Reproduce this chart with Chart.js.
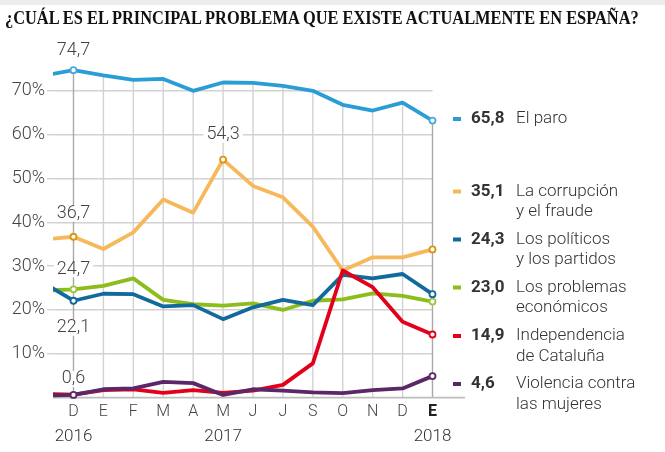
<!DOCTYPE html>
<html>
<head>
<meta charset="utf-8">
<script src="https://cdn.jsdelivr.net/npm/chart.js@4/dist/chart.umd.min.js"></script>
<style>
  body { margin: 0; background: #fff; }
  #wrap { position: relative; width: 665px; height: 452px; overflow: hidden; }
  #band { position: absolute; left: 0; top: 0; width: 665px; height: 5px; background: #ededed; }
  #title { position: absolute; left: 5px; top: 7px; white-space: nowrap;
           font: bold 19px "Liberation Serif", "DejaVu Serif", serif; color: #111;
           transform-origin: 0 0; }
  #chart { position: absolute; left: 0; top: 0; }
</style>
</head>
<body>
<div id="wrap">
  <canvas id="chart" width="665" height="452"></canvas>
  <div id="band"></div>
  <div id="title">¿CUÁL ES EL PRINCIPAL PROBLEMA QUE EXISTE ACTUALMENTE EN ESPAÑA?</div>
</div>
<script>
// first slot is the November 2016 survey, cut off by the left edge
var months = ['', 'D', 'E', 'F', 'M', 'A', 'M', 'J', 'J', 'S', 'O', 'N', 'D', 'E'];
var years = ['2016', '2017', '2018'];
var yearAt = [1, 6, 13];

var paro          = [73.5, 74.7, 73.5, 72.5, 72.7, 70.0, 71.9, 71.8, 71.1, 70.0, 66.8, 65.5, 67.3, 63.2];
var corrupcion    = [36.1, 36.7, 33.9, 37.7, 45.2, 42.2, 54.3, 48.3, 45.7, 39.0, 29.0, 32.0, 32.0, 33.8];
var politicos     = [26.2, 22.1, 23.7, 23.6, 20.8, 21.1, 17.9, 20.6, 22.3, 21.1, 28.0, 27.2, 28.2, 23.6];
var economicos    = [24.4, 24.7, 25.5, 27.2, 22.3, 21.3, 21.0, 21.5, 20.0, 22.1, 22.4, 23.8, 23.2, 21.9];
var independencia = [0.8, 0.7, 1.7, 1.9, 1.1, 1.7, 1.1, 1.6, 2.9, 7.8, 29.0, 25.2, 17.3, 14.4];
var violencia     = [0.5, 0.6, 1.9, 2.1, 3.6, 3.3, 0.6, 1.9, 1.6, 1.2, 1.0, 1.7, 2.1, 4.9];

var legendValues = ['65,8', '35,1', '24,3', '23,0', '14,9', '4,6'];
var legendNames = [['El paro'], ['La corrupción', 'y el fraude'], ['Los políticos', 'y los partidos'],
                   ['Los problemas', 'económicos'], ['Independencia', 'de Cataluña'], ['Violencia contra', 'las mujeres']];
var yTicks = [10, 20, 30, 40, 50, 60, 70];

// fit the title to the width of the original
var t = document.getElementById('title');
t.style.transform = 'scaleX(' + (634 / t.offsetWidth) + ')';

var colors = {
    paro: '#2a9dd7', corr: '#f7b85c', pol: '#12699c', eco: '#8cbd1d', ind: '#e2001a', vio: '#5b2767'
};

function pts(arr) {
    return arr.map(function(v, i) { return { x: i, y: v }; });
}

function serie(label, arr, color, ring, marks) {
    return {
        label: label,
        data: pts(arr),
        borderColor: color,
        borderWidth: 3.8,
        borderJoinStyle: 'round',
        borderCapStyle: 'round',
        tension: 0,
        clip: { left: 0, top: false, right: false, bottom: false },
        pointRadius: function(ctx) { return marks.indexOf(ctx.dataIndex) >= 0 ? 3 : 0; },
        pointBackgroundColor: '#fff',
        pointBorderColor: ring,
        pointBorderWidth: 1.8,
        pointHoverRadius: 0
    };
}

// label sitting over a point: series, index, vertical offset
var notes = [
    { data: paro, i: 1, dy: -20 },
    { data: corrupcion, i: 6, dy: -25 },
    { data: corrupcion, i: 1, dy: -23 },
    { data: economicos, i: 1, dy: -20 },
    { data: politicos, i: 1, dy: 27 },
    { data: violencia, i: 1, dy: -16 }
];

var legendY = [119, 191.5, 239.5, 287.5, 336, 384];
var legendColors = [colors.paro, colors.corr, colors.pol, colors.eco, colors.ind, colors.vio];

var extras = {
    id: 'extras',
    beforeDatasetsDraw: function(chart) {
        var c = chart.ctx, x = chart.scales.x, y = chart.scales.y;
        c.save();
        // vertical lines run from the base up to the "paro" line
        for (var i = 1; i < months.length; i++) {
            var px = x.getPixelForValue(i);
            c.beginPath();
            c.moveTo(px, y.getPixelForValue(0));
            c.lineTo(px, y.getPixelForValue(paro[i]));
            c.lineWidth = 1.4;
            c.strokeStyle = (i == 1 || i == months.length - 1) ? '#a9a9a9' : '#d2d2d2';
            c.stroke();
        }
        // base line
        c.beginPath();
        c.moveTo(chart.chartArea.left, y.getPixelForValue(0));
        c.lineTo(465, y.getPixelForValue(0));
        c.lineWidth = 1.6;
        c.strokeStyle = '#bdbdbd';
        c.stroke();
        c.restore();
    },
    afterDraw: function(chart) {
        var c = chart.ctx, x = chart.scales.x, y = chart.scales.y;
        c.save();
        c.textBaseline = 'middle';
        // value notes
        c.font = '300 18px Roboto';
        c.textAlign = 'center';
        notes.forEach(function(n) {
            var v = n.data[n.i];
            var txt = v.toFixed(1).replace('.', ',');
            var px = x.getPixelForValue(n.i), py = y.getPixelForValue(v) + n.dy;
            var w = c.measureText(txt).width;
            c.fillStyle = '#fff';
            c.fillRect(px - w / 2 - 3, py - 8, w + 6, 16);
            c.fillStyle = '#444';
            c.fillText(txt, px, py);
        });
        // years
        c.font = '300 17px Roboto';
        c.fillStyle = '#333';
        years.forEach(function(yr, k) {
            c.fillText(yr, x.getPixelForValue(yearAt[k]), 437);
        });
        // legend on the right
        c.textAlign = 'left';
        legendY.forEach(function(ly, k) {
            c.fillStyle = legendColors[k];
            c.fillRect(453, ly - 2, 8, 4);
            c.font = 'bold 17px Roboto';
            c.fillStyle = '#333';
            c.fillText(legendValues[k], 471, ly);
            c.font = '300 17px Roboto';
            c.fillStyle = '#333';
            legendNames[k].forEach(function(line, j) {
                c.fillText(line, 516, ly + j * 20.5);
            });
        });
        c.restore();
    }
};

new Chart(document.getElementById('chart'), {
    type: 'line',
    data: {
        datasets: [
            serie('Violencia contra las mujeres', violencia, colors.vio, colors.vio, [1, 13]),
            serie('Independencia de Cataluña', independencia, colors.ind, colors.ind, [13]),
            serie('Los políticos y los partidos', politicos, colors.pol, colors.pol, [1, 13]),
            serie('El paro', paro, colors.paro, '#4aa9dd', [1, 13]),
            serie('Los problemas económicos', economicos, colors.eco, '#9cc63c', [1, 13]),
            serie('La corrupción y el fraude', corrupcion, colors.corr, '#d8960e', [1, 6, 13])
        ]
    },
    options: {
        responsive: false,
        animation: false,
        events: [],
        layout: { padding: { top: 61, right: 232.5, bottom: 0, left: 0 } },
        plugins: { legend: { display: false }, tooltip: { enabled: false } },
        scales: {
            x: {
                type: 'linear',
                min: 0.315,
                max: 13,
                afterFit: function(s) { s.height = 54.4; },
                afterBuildTicks: function(s) {
                    s.ticks = months.map(function(m, i) { return { value: i }; }).slice(1);
                },
                grid: { display: false, drawTicks: false },
                border: { display: false },
                ticks: {
                    autoSkip: false,
                    maxRotation: 0,
                    padding: 5,
                    color: function(ctx) { return ctx.index == 12 ? '#222' : '#444'; },
                    font: function(ctx) {
                        return ctx.index == 12 ? { family: 'Roboto', size: 16, weight: 'bold' }
                                               : { family: 'Roboto', size: 16, weight: 300 };
                    },
                    callback: function(v) { return months[v]; }
                }
            },
            y: {
                min: 0,
                max: 76.8,
                afterFit: function(s) { s.width = 53; },
                afterBuildTicks: function(s) {
                    s.ticks = yTicks.map(function(v) { return { value: v }; });
                },
                grid: { color: '#d2d2d2', lineWidth: 1.4, drawTicks: true, tickLength: 6 },
                border: { display: false },
                ticks: {
                    padding: 2,
                    color: '#444',
                    font: { family: 'Roboto', size: 18, weight: 300 },
                    callback: function(v) { return v + '%'; }
                }
            }
        }
    },
    plugins: [extras]
});
</script>
</body>
</html>
